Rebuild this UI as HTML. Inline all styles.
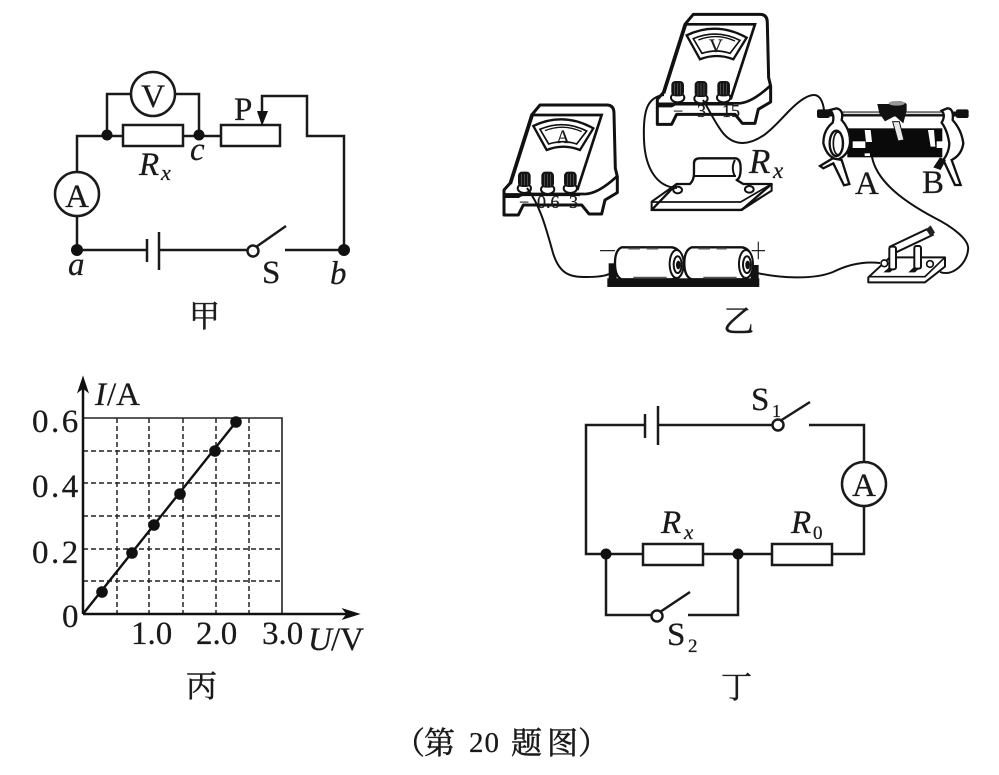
<!DOCTYPE html>
<html lang="zh"><head><meta charset="utf-8"><style>
html,body{margin:0;padding:0;background:#fff}
svg{display:block}
text{font-family:"Liberation Serif","Noto Serif CJK SC",serif;fill:#1a1a1a;stroke:#1a1a1a;stroke-width:.25}
.i{font-style:italic}
.w{fill:none;stroke:#1a1a1a;stroke-width:2.5}
.cap{font-family:"Noto Serif CJK SC","Liberation Serif",serif;font-size:31px;stroke-width:.5}
.m{text-anchor:middle}
</style></head><body>
<svg width="999" height="775" viewBox="0 0 999 775" xmlns="http://www.w3.org/2000/svg">
<rect width="999" height="775" fill="#fff"/>

<!-- 甲 -->
<g class="w">
<path d="M77 172V136H123M183 136H221M107 135V94H131M175 94H199V135M77 216V250H147M159 250H247M285 250H344V136H307V96H262V112"/>
<path d="M147 239V262M159 232V270M256 247L286 226" />
<rect x="123" y="125" width="60" height="21"/><rect x="221" y="125" width="59" height="21"/>
<circle cx="153" cy="94" r="22"/><circle cx="77" cy="194" r="22"/><circle cx="253" cy="251" r="5.5"/>
</g>
<path d="M257 111H268L262 126Z" fill="#111"/>
<circle cx="107" cy="135" r="5.5" fill="#111"/><circle cx="199" cy="135" r="5.5" fill="#111"/>
<circle cx="77" cy="250" r="6" fill="#111"/><circle cx="344" cy="250" r="6" fill="#111"/>
<g font-size="33">
<text x="153" y="107" class="m">V</text><text x="77" y="207" class="m">A</text><text x="234" y="120">P</text>
<text x="139" y="175" class="i">R</text><text x="161" y="180" class="i" font-size="22">x</text>
<text x="190" y="160" class="i">c</text><text x="68" y="275" class="i">a</text>
<text x="262" y="283">S</text><text x="330" y="284" class="i">b</text>
</g>
<text class="cap" x="189" y="327">甲</text>

<!-- meters -->
<g transform="translate(490,0) scale(.3333)">
<g id="meter">
<path d="M125 345L150 315H350Q372 315 372 340L376 505L382 530V578L345 600L335 642H297L275 615H100L85 645H42V570L60 550Z" fill="#fff" stroke="#111" stroke-width="9" stroke-linejoin="round"/>
<path d="M128 345H335L262 570M128 345L62 552" fill="none" stroke="#111" stroke-width="8"/>
<path d="M42 590H85L100 582H280Q320 585 380 530" fill="none" stroke="#111" stroke-width="8"/>
<path d="M130 378Q220 335 310 385L270 450Q220 430 170 450Z" fill="#fff" stroke="#111" stroke-width="7"/>
<path d="M150 388Q220 358 290 393L260 432Q220 418 176 432Z" fill="#fff" stroke="#111" stroke-width="5"/>
<path d="M165 392Q220 370 275 395" fill="none" stroke="#111" stroke-width="4"/>
<g>
<ellipse cx="103" cy="565" rx="20" ry="14" fill="#fff" stroke="#111" stroke-width="6"/>
<rect x="84" y="515" width="38" height="46" rx="12" fill="#141414"/>
<path d="M94 522V556M103 522V556M112 522V556" stroke="#666" stroke-width="2"/>
<ellipse cx="173" cy="568" rx="20" ry="14" fill="#fff" stroke="#111" stroke-width="6"/>
<rect x="154" y="515" width="38" height="48" rx="12" fill="#141414"/>
<path d="M164 522V558M173 522V558M182 522V558" stroke="#666" stroke-width="2"/>
<ellipse cx="241" cy="565" rx="20" ry="14" fill="#fff" stroke="#111" stroke-width="6"/>
<rect x="222" y="515" width="38" height="46" rx="12" fill="#141414"/>
<path d="M232 522V556M241 522V556M250 522V556" stroke="#666" stroke-width="2"/>
</g>
<path d="M40 584H270" stroke="#111" stroke-width="9"/>
</g>
<use href="#meter" x="460" y="-272"/>
</g>
<text x="563" y="143" font-size="19" class="m">A</text>
<text x="716" y="52" font-size="19" class="m">V</text>
<g font-size="18">
<text x="519" y="208">−</text><text x="537" y="208">0.6</text><text x="569" y="208">3</text>
<text x="673" y="117">−</text><text x="697" y="117">3</text><text x="722" y="117">15</text>
</g>

<!-- Rx resistor on board -->
<g transform="translate(490,0) scale(.3333)">
<path d="M485 630L560 552H600Q612 540 612 520V490Q612 475 630 475H735Q752 475 752 505Q752 535 740 540L760 552H845L755 630Z" fill="#fff" stroke="#111" stroke-width="7" stroke-linejoin="round"/>
<path d="M485 630V605L560 552M755 630H485M755 630L845 572V552M485 605V630H752L845 572" fill="none" stroke="#111" stroke-width="6"/>
<path d="M487 606H752L845 552" fill="none" stroke="#111" stroke-width="5"/>
<path d="M612 528H738M735 480Q722 503 735 530" fill="none" stroke="#111" stroke-width="6"/>
<ellipse cx="563" cy="570" rx="13" ry="10" fill="#fff" stroke="#111" stroke-width="6"/>
<ellipse cx="778" cy="568" rx="13" ry="10" fill="#fff" stroke="#111" stroke-width="6"/>
</g>
<text x="749" y="173" font-size="35" class="i">R</text><text x="773" y="178" font-size="23" class="i">x</text>

<!-- batteries -->
<g transform="translate(490,0) scale(.3333)">
<rect x="352" y="835" width="456" height="26" fill="#111"/>
<rect x="356" y="790" width="24" height="48" fill="#111"/><rect x="782" y="795" width="24" height="42" fill="#111"/>
<path d="M395 742H545Q575 745 577 790Q575 835 545 838H395Q375 830 375 790Q375 750 395 742Z" fill="#fff" stroke="#111" stroke-width="7"/>
<path d="M605 742H755Q785 745 787 790Q785 835 755 838H605Q583 830 583 790Q583 750 605 742Z" fill="#fff" stroke="#111" stroke-width="7"/>
<ellipse cx="560" cy="792" rx="21" ry="42" fill="#fff" stroke="#111" stroke-width="6"/>
<ellipse cx="563" cy="794" rx="12" ry="25" fill="#fff" stroke="#111" stroke-width="6"/>
<ellipse cx="565" cy="795" rx="7" ry="13" fill="#111"/>
<ellipse cx="768" cy="792" rx="21" ry="42" fill="#fff" stroke="#111" stroke-width="6"/>
<ellipse cx="771" cy="794" rx="12" ry="25" fill="#fff" stroke="#111" stroke-width="6"/>
<ellipse cx="773" cy="795" rx="7" ry="13" fill="#111"/>
<path d="M415 746H450M470 746H505M625 746H660M680 746H710M430 833H530M640 833H740" stroke="#555" stroke-width="5"/>
<path d="M330 752H375M785 752H825M805 725V778" stroke="#222" stroke-width="3.5" fill="none"/>
</g>

<!-- rheostat -->
<g transform="translate(740,80) scale(.3333)">
<path d="M235 102H685" stroke="#111" stroke-width="15"/><path d="M310 100H615" stroke="#ddd" stroke-width="5"/>
<rect x="231" y="88" width="38" height="26" rx="6" fill="#111"/><rect x="648" y="88" width="38" height="26" rx="6" fill="#111"/>
<rect x="322" y="145" width="285" height="87" fill="#0a0a0a"/>
<path d="M374 150H392L396 186H378Z" fill="#fff"/>
<path d="M564 150H582L586 200H572Z" fill="#fff"/>
<rect x="338" y="184" width="38" height="20" fill="#fff"/><rect x="590" y="184" width="36" height="20" fill="#fff"/>
<rect x="374" y="220" width="16" height="8" fill="#fff"/>
<path d="M458 125L478 125L492 180L474 183Z" fill="#e8e8e8" stroke="#111" stroke-width="3"/>
<path d="M412 72H450Q480 55 500 72V92L490 130L465 108L435 124L418 100Z" fill="#111"/>
<ellipse cx="470" cy="70" rx="24" ry="7" fill="#999"/>
<path d="M290 85Q312 90 305 120Q332 150 330 190Q325 225 295 238Q262 235 250 190Q250 150 278 128Q285 105 270 90Z" fill="#fff" stroke="#111" stroke-width="7"/>
<ellipse cx="289" cy="190" rx="20" ry="38" fill="#fff" stroke="#111" stroke-width="7"/>
<ellipse cx="294" cy="190" rx="14" ry="34" fill="none" stroke="#111" stroke-width="5"/>
<path d="M622 85Q642 85 638 120Q665 150 670 190Q665 225 635 240L662 315H645L610 240Q628 215 628 190Q622 150 605 128Q618 105 605 92Z" fill="#fff" stroke="#111" stroke-width="7"/>
<path d="M240 258L278 235L305 240L328 312L312 316L280 250L250 265Z" fill="#fff" stroke="#111" stroke-width="7"/>
<path d="M580 262L600 232L618 240L602 270Z" fill="#111"/>
</g>
<text x="855" y="194" font-size="33">A</text><text x="922" y="193" font-size="33">B</text>

<!-- knife switch -->
<g transform="translate(740,80) scale(.3333)">
<path d="M385 592L450 532H615V560L555 607H385Z" fill="#fff" stroke="#111" stroke-width="6" stroke-linejoin="round"/>
<path d="M385 590H555L615 532" fill="none" stroke="#111" stroke-width="5"/>
<path d="M430 577L450 560H470L450 577ZM505 577L525 558H545L525 577Z" fill="#111"/>
<path d="M450 500L560 448L578 465L462 520Z" fill="#fff" stroke="#111" stroke-width="6"/>
<path d="M558 448L572 436L585 458L572 470Z" fill="#222"/>
<rect x="448" y="500" width="20" height="68" rx="6" fill="#fff" stroke="#111" stroke-width="6"/>
<rect x="523" y="498" width="20" height="68" rx="6" fill="#fff" stroke="#111" stroke-width="6"/>
<circle cx="433" cy="550" r="10" fill="#fff" stroke="#111" stroke-width="5"/>
<circle cx="570" cy="552" r="10" fill="#fff" stroke="#111" stroke-width="5"/>
</g>

<!-- apparatus wires -->
<g fill="none" stroke="#111" stroke-width="2">
<path d="M527 188C540 205 546 228 553 253C560 276 572 277 587 277C598 277 605 276 609 274"/>
<path d="M664 95C646 97 643 113 644 140C645 167 656 187 677 188"/>
<path d="M703 100C717 123 723 143 743 143C763 142 777 123 790 110C800 100 808 95 814 95C820 95 823 102 824 110"/>
<path d="M757 273C780 278 813 280 833 272C847 265 863 261 880 263"/>
<path d="M872 157C877 183 907 203 933 217C953 227 970 240 968 250C967 263 953 277 940 272"/>
</g>
<text class="cap" x="723" y="332">乙</text>

<!-- 丙 graph -->
<g fill="none" stroke="#222" stroke-width="1.5" stroke-dasharray="5 3">
<path d="M117 418V614M149 418V614M183 418V614M216 418V614M249 418V614"/>
<path d="M83 451H282M83 483H282M83 516H282M83 549H282M83 581H282"/>
</g>
<path d="M83 418H282V614" fill="none" stroke="#222" stroke-width="1.6"/>
<path d="M83 614V385M83 614H350" fill="none" stroke="#111" stroke-width="2.5"/>
<path d="M78 392L83 377L88 392L83 388Z M343 609L359 614L343 619L347 614Z" fill="#111" stroke="#111"/>
<path d="M83 614L236 422" fill="none" stroke="#111" stroke-width="2.4"/>
<g fill="#111"><circle cx="102" cy="592" r="5.8"/><circle cx="132" cy="553" r="5.8"/><circle cx="154" cy="525" r="5.8"/><circle cx="180" cy="494" r="5.8"/><circle cx="215" cy="451" r="5.8"/><circle cx="236" cy="422" r="5.8"/></g>
<g font-size="33">
<text x="95" y="405" class="i">I</text><text x="107" y="405">/A</text>
<text x="32" y="432" letter-spacing="2.5">0.6</text><text x="32" y="497" letter-spacing="2.5">0.4</text><text x="32" y="563" letter-spacing="2.5">0.2</text>
<text x="62" y="627">0</text>
<text x="131" y="644">1.0</text><text x="196" y="644">2.0</text><text x="262" y="644">3.0</text>
<text x="308" y="650" class="i">U</text><text x="331" y="650">/V</text>
</g>
<text class="cap" x="186" y="697">丙</text>

<!-- 丁 -->
<g class="w">
<path d="M645 425H586V554H643M703 554H772M832 554H864V506M864 462V425H809M658 425H772M606 554V615H652M688 615H738V554"/>
<path d="M645 414V438M658 406V445M780 421L810 402M660 612L690 592"/>
<rect x="643" y="544" width="60" height="21"/><rect x="772" y="544" width="60" height="21"/>
<circle cx="864" cy="484" r="22"/><circle cx="778" cy="425" r="5.5"/><circle cx="657" cy="616" r="5.5"/>
</g>
<circle cx="606" cy="554" r="5.5" fill="#111"/><circle cx="738" cy="554" r="5.5" fill="#111"/>
<g font-size="33">
<text x="751" y="410">S</text><text x="772" y="417" font-size="18">1</text>
<text x="864" y="496" class="m">A</text>
<text x="661" y="533" class="i">R</text><text x="684" y="539" class="i" font-size="21">x</text>
<text x="791" y="533" class="i">R</text><text x="813" y="539" font-size="19">0</text>
<text x="667" y="645">S</text><text x="688" y="652" font-size="19">2</text>
</g>
<text class="cap" x="721" y="698">丁</text>

<text class="cap" x="394" y="754">（</text>
<text class="cap" x="424" y="754">第</text>
<text x="469" y="752" font-size="29" letter-spacing="1">20</text>
<text class="cap" x="511" y="754">题</text>
<text class="cap" x="547" y="754">图</text>
<text class="cap" x="578" y="754">）</text>
</svg>
</body></html>
